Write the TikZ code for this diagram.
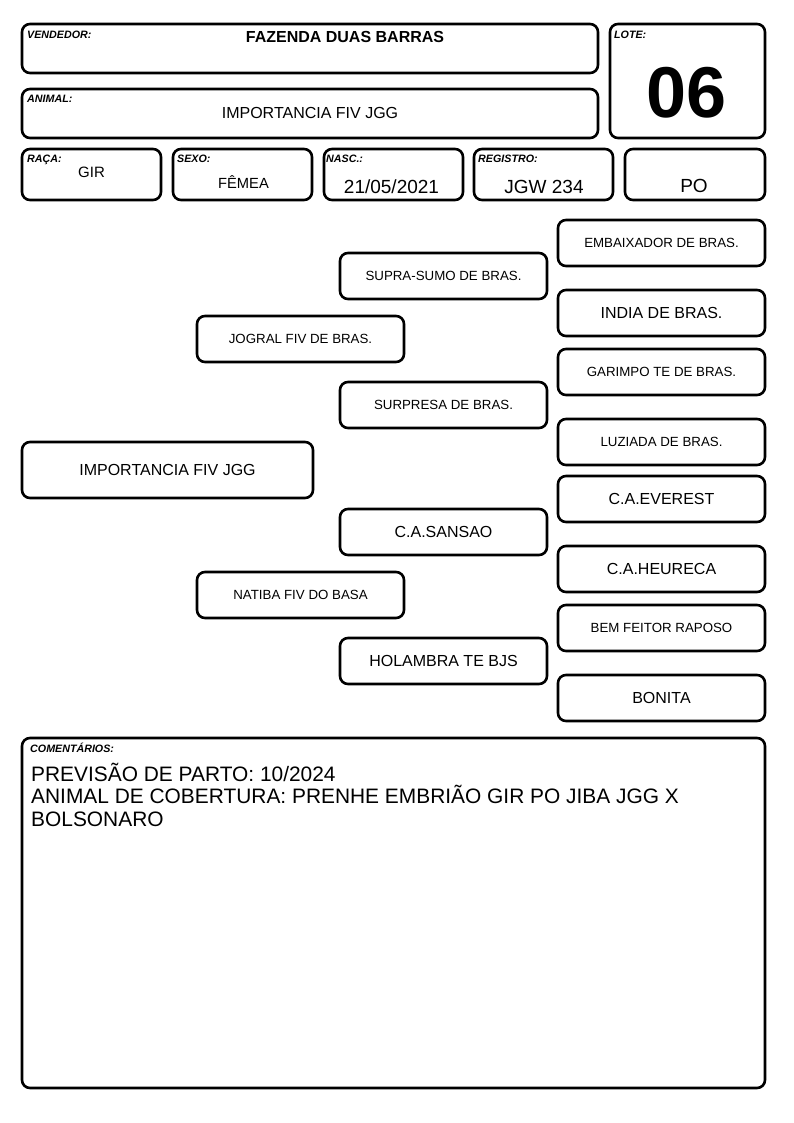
\documentclass[tikz,border=0pt]{standalone}
\usepackage{fontspec}
\setmainfont{Liberation Sans}
\usetikzlibrary{positioning}

\begin{document}
\begin{tikzpicture}[
  x=1pt, y=-1pt,
  cell/.style={rectangle, draw, line width=2.6pt, rounded corners=8pt, inner sep=0pt},
  pedbox/.style={cell, minimum width=207pt, minimum height=46pt, align=center},
  tag/.style={anchor=base west, inner sep=0pt, font=\fontsize{10.7}{12}\selectfont\bfseries\itshape},
  value/.style={anchor=base, inner sep=0pt, font=\fontsize{16}{19}\selectfont},
  small/.style={font=\fontsize{13.3}{16}\selectfont},
  large/.style={font=\fontsize{16}{19}\selectfont}
]
\useasboundingbox (0,0) rectangle (794,1123);

% Header boxes
\node[cell, minimum width=576pt, minimum height=49pt] (vendedor) at (310,48.5) {};
\node[cell, minimum width=155pt, minimum height=114pt] (lote) at (687.5,81) {};
\node[cell, minimum width=576pt, minimum height=49pt] (animal) at (310,113.5) {};
\node[cell, minimum width=139pt, minimum height=51pt] (raca) at (91.5,174.5) {};
\node[cell, minimum width=139pt, minimum height=51pt] (sexo) at (242.5,174.5) {};
\node[cell, minimum width=139pt, minimum height=51pt] (nasc) at (393.5,174.5) {};
\node[cell, minimum width=139pt, minimum height=51pt] (registro) at (543.5,174.5) {};
\node[cell, minimum width=140pt, minimum height=51pt] (grau) at (695,174.5) {};

% Header tags and values
\node[tag] (vendedortag) at (27,39) {VENDEDOR:};
\node[value, font=\fontsize{16}{19}\selectfont\bfseries] (vendedorval) at (345,43) {FAZENDA DUAS BARRAS};
\node[tag] (lotetag) at (614,38.5) {LOTE:};
\node[value, font=\fontsize{72}{80}\selectfont\bfseries] (loteval) at (687,118) {06};
\node[tag] (animaltag) at (27,103) {ANIMAL:};
\node[value] (animalval) at (310,119) {IMPORTANCIA FIV JGG};
\node[tag] (racatag) at (27,163) {RAÇA:};
\node[value, font=\fontsize{15}{18}\selectfont] (racaval) at (91.5,178) {GIR};
\node[tag] (sexotag) at (177,163) {SEXO:};
\node[value, font=\fontsize{14.7}{18}\selectfont] (sexoval) at (243.5,189) {FÊMEA};
\node[tag] (nasctag) at (326,163) {NASC.:};
\node[value, font=\fontsize{19}{22}\selectfont] (nascval) at (391.5,194) {21/05/2021};
\node[tag] (registrotag) at (478,163) {REGISTRO:};
\node[value, font=\fontsize{19}{22}\selectfont] (registroval) at (544,194) {JGW 234};
\node[value, font=\fontsize{19}{22}\selectfont] (grauval) at (694,193) {PO};

% Pedigree - animal
\node[cell, minimum width=291pt, minimum height=56pt, large] (animalped) at (167.5,470) {IMPORTANCIA FIV JGG};

% Pedigree - parents
\node[pedbox, small] (pai) at (300.5,339) {JOGRAL FIV DE BRAS.};
\node[pedbox, small] (mae) at (300.5,595) {NATIBA FIV DO BASA};

% Pedigree - grandparents
\node[pedbox, small] (avopp) at (443.5,276) {SUPRA-SUMO DE BRAS.};
\node[pedbox, small] (avopm) at (443.5,405) {SURPRESA DE BRAS.};
\node[pedbox, large] (avomp) at (443.5,532) {C.A.SANSAO};
\node[pedbox, large] (avomm) at (443.5,661) {HOLAMBRA TE BJS};

% Pedigree - great-grandparents
\node[pedbox, small] (bisa1) at (661.5,243) {EMBAIXADOR DE BRAS.};
\node[pedbox, large] (bisa2) at (661.5,313) {INDIA DE BRAS.};
\node[pedbox, small] (bisa3) at (661.5,372) {GARIMPO TE DE BRAS.};
\node[pedbox, small] (bisa4) at (661.5,442) {LUZIADA DE BRAS.};
\node[pedbox, large] (bisa5) at (661.5,499) {C.A.EVEREST};
\node[pedbox, large] (bisa6) at (661.5,569) {C.A.HEURECA};
\node[pedbox, small] (bisa7) at (661.5,628) {BEM FEITOR RAPOSO};
\node[pedbox, large] (bisa8) at (661.5,698) {BONITA};

% Comments
\node[cell, minimum width=743pt, minimum height=350pt] (comentarios) at (393.5,913) {};
\node[tag] (comentariostag) at (30,752) {COMENTÁRIOS:};
\node[anchor=base west, inner sep=0pt, align=left, font=\fontsize{20.9}{22.5}\selectfont] (comentariosval) at (31,826)
  {PREVISÃO DE PARTO: 10/2024\\ANIMAL DE COBERTURA: PRENHE EMBRIÃO GIR PO JIBA JGG X\\BOLSONARO};

\end{tikzpicture}
\end{document}
